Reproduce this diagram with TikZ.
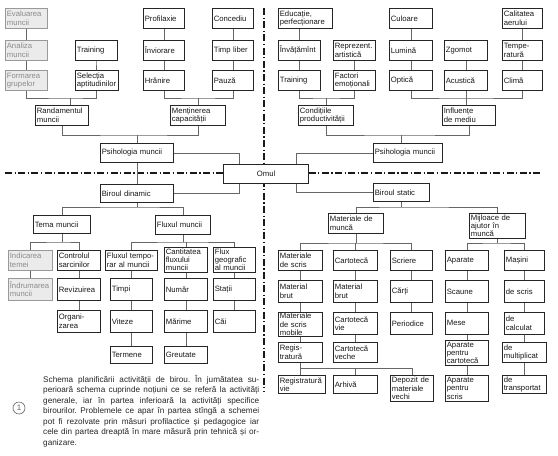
\documentclass[tikz,border=0pt]{standalone}
\usepackage{fontspec}
\setmainfont{Liberation Sans}
\usetikzlibrary{calc}
\newcommand\bxf{\fontsize{7.7}{8.3}\selectfont}
\begin{document}
\begin{tikzpicture}[x=1pt,y=1pt,
  bx/.style={draw=black!85, fill=white, line width=0.7pt, inner xsep=1.5pt, inner ysep=1pt, align=left, anchor=north west, font=\bxf, text=black!90},
  fbx/.style={bx, draw=black!40, fill=black!8, text=black!45},
  cn/.style={draw=black!60, line width=0.55pt},
  divline/.style={draw=black!90, line width=1.1pt, dash pattern=on 7pt off 2.5pt on 1.2pt off 2.5pt}]
\useasboundingbox (0,0) rectangle (558,-456);
\fill[white] (0,0) rectangle (558,-456);
% dividers
\draw[divline] (5,-173) -- (542,-173);
\draw[divline] (264,-8) -- (264,-392);
% ---------- top left
\node[fbx, text width=39pt, minimum height=20pt] (eval) at (5,-8) {Evaluarea\\muncii};
\node[fbx, text width=39pt, minimum height=20pt] (anal) at (5,-40) {Analiza\\muncii};
\node[fbx, text width=39pt, minimum height=20pt] (form) at (5,-70) {Formarea\\grupelor};
\node[bx, text width=39pt, minimum height=20pt] (trainA) at (75,-40) {Training};
\node[bx, text width=39.5pt, minimum height=20pt] (selec) at (75,-70) {Selecția\\aptitudinilor};
\node[bx, text width=50pt, minimum height=20pt] (rand) at (35,-105) {Randamentul\\muncii};
\node[bx, text width=38pt, minimum height=20pt] (prof) at (143,-8) {Profilaxie};
\node[bx, text width=38pt, minimum height=20pt] (conc) at (212,-8) {Concediu};
\node[bx, text width=38pt, minimum height=20pt] (invi) at (143,-40) {Înviorare};
\node[bx, text width=38pt, minimum height=20pt] (timp) at (212,-40) {Timp liber};
\node[bx, text width=38pt, minimum height=20pt] (hran) at (143,-70) {Hrănire};
\node[bx, text width=38pt, minimum height=20pt] (pauz) at (212,-70) {Pauză};
\node[bx, text width=52pt, minimum height=20pt] (ment) at (170,-105) {Menținerea\\capacității};
% ---------- top right
\node[bx, text width=51pt, minimum height=20pt] (educ) at (278,-8) {Educație,\\perfecționare};
\node[bx, text width=39pt, minimum height=20pt] (inva) at (278,-40) {Învățămînt};
\node[bx, text width=39pt, minimum height=20pt] (repr) at (333,-40) {Reprezent.\\artistică};
\node[bx, text width=39pt, minimum height=20pt] (trainB) at (278,-70) {Training};
\node[bx, text width=39pt, minimum height=20pt] (fact) at (333,-70) {Factori\\emoționali};
\node[bx, text width=52pt, minimum height=20pt] (cond) at (298,-105) {Condițiile\\productivității};
\node[bx, text width=40pt, minimum height=20pt] (cul) at (389,-8) {Culoare};
\node[bx, text width=40pt, minimum height=20pt] (lum) at (389,-40) {Lumină};
\node[bx, text width=40pt, minimum height=20pt] (opt) at (389,-70) {Optică};
\node[bx, text width=40pt, minimum height=20pt] (zgo) at (444,-40) {Zgomot};
\node[bx, text width=40pt, minimum height=20pt] (acu) at (444,-70) {Acustică};
\node[bx, text width=37pt, minimum height=20pt] (cal) at (502,-8) {Calitatea\\aerului};
\node[bx, text width=37pt, minimum height=20pt] (temp) at (502,-40) {Tempe-\\ratură};
\node[bx, text width=37pt, minimum height=20pt] (clim) at (502,-70) {Climă};
\node[bx, text width=50pt, minimum height=20pt] (infl) at (442,-105) {Influențe\\de mediu};
% ---------- middle
\node[bx, text width=70pt, minimum height=19pt] (psyA) at (100,-143) {Psihologia muncii};
\node[bx, text width=66pt, minimum height=19pt] (psyB) at (373,-143) {Psihologia muncii};
\node[bx, align=center, text width=82pt, minimum height=19pt, line width=1.2pt] (omul) at (223,-164) {Omul};
\node[bx, text width=70pt, minimum height=18pt] (bd) at (100,-184) {Biroul dinamic};
\node[bx, text width=53pt, minimum height=18pt] (bs) at (373,-183) {Biroul static};
% ---------- bottom left
\node[bx, text width=54pt, minimum height=18pt] (tema) at (33,-215) {Tema muncii};
\node[bx, text width=52pt, minimum height=19pt] (flux) at (155,-215) {Fluxul muncii};
\node[fbx, text width=41pt, minimum height=20pt] (ind) at (8,-250) {Indicarea\\temei};
\node[bx, text width=40pt, minimum height=20pt] (ctrl) at (57,-250) {Controlul\\sarcinilor};
\node[bx, text width=49pt, minimum height=20pt] (ftemp) at (105,-250) {Fluxul tempo-\\rar al muncii};
\node[bx, text width=40pt, minimum height=25pt] (cant) at (164,-247) {Cantitatea\\fluxului\\muncii};
\node[bx, text width=39pt, minimum height=25pt] (fgeo) at (213,-247) {Flux\\geografic\\al muncii};
\node[fbx, text width=41pt, minimum height=22pt] (indr) at (8,-278) {Îndrumarea\\muncii};
\node[bx, text width=40pt, minimum height=22pt] (rev) at (57,-278) {Revizuirea};
\node[bx, text width=39pt, minimum height=22pt] (timpi) at (110,-278) {Timpi};
\node[bx, text width=40pt, minimum height=22pt] (num) at (164,-278) {Număr};
\node[bx, text width=39pt, minimum height=22pt] (stat) at (213,-278) {Stații};
\node[bx, text width=40pt, minimum height=22pt] (org) at (57,-310) {Organi-\\zarea};
\node[bx, text width=39pt, minimum height=22pt] (vit) at (110,-310) {Viteze};
\node[bx, text width=40pt, minimum height=22pt] (mar) at (164,-310) {Mărime};
\node[bx, text width=39pt, minimum height=22pt] (cai) at (213,-310) {Căi};
\node[bx, text width=39pt, minimum height=17pt] (term) at (110,-346) {Termene};
\node[bx, text width=40pt, minimum height=17pt] (greu) at (164,-346) {Greutate};
% ---------- bottom right
\node[bx, text width=52pt, minimum height=20pt] (mat) at (328,-213) {Materiale de\\muncă};
\node[bx, text width=53pt, minimum height=25pt] (mij) at (469,-213) {Mijloace de\\ajutor în\\muncă};
\node[bx, text width=41pt, minimum height=20pt] (msc) at (278,-250) {Materiale\\de scris};
\node[bx, text width=41pt, minimum height=20pt] (cart) at (333,-250) {Cartotecă};
\node[bx, text width=39pt, minimum height=20pt] (scr) at (390,-250) {Scriere};
\node[bx, text width=40pt, minimum height=20pt] (apar) at (445,-250) {Aparate};
\node[bx, text width=37pt, minimum height=20pt] (mas) at (504,-250) {Mașini};
\node[bx, text width=41pt, minimum height=22pt] (mbA) at (278,-280) {Material\\brut};
\node[bx, text width=41pt, minimum height=22pt] (mbB) at (333,-280) {Material\\brut};
\node[bx, text width=39pt, minimum height=22pt] (carti) at (390,-280) {Cărți};
\node[bx, text width=40pt, minimum height=22pt] (scaun) at (445,-280) {Scaune};
\node[bx, text width=37pt, minimum height=22pt] (descris) at (504,-280) {de scris};
\node[bx, text width=41pt, minimum height=24pt] (mscm) at (278,-312) {Materiale\\de scris\\mobile};
\node[bx, text width=41pt, minimum height=22pt] (cvie) at (333,-312) {Cartotecă\\vie};
\node[bx, text width=39pt, minimum height=22pt] (period) at (390,-312) {Periodice};
\node[bx, text width=40pt, minimum height=22pt] (mese) at (445,-312) {Mese};
\node[bx, text width=37pt, minimum height=22pt] (decalc) at (504,-312) {de\\calculat};
\node[bx, text width=41pt, minimum height=20pt] (regis) at (278,-342) {Regis-\\tratură};
\node[bx, text width=41pt, minimum height=20pt] (cvec) at (333,-342) {Cartotecă\\veche};
\node[bx, text width=40pt, minimum height=25pt] (apcart) at (445,-340) {Aparate\\pentru\\cartotecă};
\node[bx, text width=41pt, minimum height=20pt] (demult) at (502,-342) {de\\multiplicat};
\node[bx, text width=44pt, minimum height=18pt] (rvie) at (278,-375) {Registratură\\vie};
\node[bx, text width=41pt, minimum height=18pt] (arh) at (333,-375) {Arhivă};
\node[bx, text width=40pt, minimum height=26pt] (depoz) at (390,-375) {Depozit de\\materiale\\vechi};
\node[bx, text width=40pt, minimum height=26pt] (apscr) at (445,-375) {Aparate\\pentru\\scris};
\node[bx, text width=41pt, minimum height=18pt] (detrans) at (502,-375) {de\\transportat};
% ---------- caption
\node[circle, draw=black!60, line width=0.6pt, minimum size=12pt, inner sep=0pt, text=black!60, font=\fontsize{8}{8}\selectfont] (no) at (19,-408) {1};
\node[anchor=north west, text width=216pt, align=justify, inner sep=0pt, text=black!85, font=\fontsize{8.2}{10.5}\selectfont] (cap) at (43,-375) {\frenchspacing\tolerance=10000\hbadness=10000
Schema planificării activității de birou. În jumătatea su-\linebreak
perioară schema cuprinde noțiuni ce se referă la activități\linebreak
generale, iar în partea inferioară la activități specifice\linebreak
birourilor. Problemele ce apar în partea stîngă a schemei\linebreak
pot fi rezolvate prin măsuri profilactice și pedagogice iar\linebreak
cele din partea dreaptă în mare măsură prin tehnică și or-\linebreak
ganizare.};
% ---------- vertical chains
\draw[cn] (eval) -- (anal) -- (form);
\draw[cn] (trainA) -- (selec);
\draw[cn] (prof) -- (invi) -- (hran);
\draw[cn] (conc) -- (timp) -- (pauz);
\draw[cn] (inva.north) -- (inva.north |- educ.south);
\draw[cn] (inva) -- (trainB);
\draw[cn] (repr) -- (fact);
\draw[cn] (cul) -- (lum) -- (opt);
\draw[cn] (zgo) -- (acu);
\draw[cn] (cal) -- (temp) -- (clim);
\draw[cn] (psyA) -- (bd);
\draw[cn] (ind) -- (indr);
\draw[cn] (ctrl) -- (rev) -- (org);
\draw[cn] (ftemp.south) -- (ftemp.south |- timpi.north);
\draw[cn] (timpi) -- (vit) -- (term);
\draw[cn] (cant) -- (num) -- (mar) -- (greu);
\draw[cn] (fgeo) -- (stat) -- (cai);
\draw[cn] (msc) -- (mbA) -- (mscm) -- (regis);
\draw[cn] (cart) -- (mbB) -- (cvie) -- (cvec);
\draw[cn] (scr) -- (carti) -- (period);
\draw[cn] (apar) -- (scaun) -- (mese) -- (apcart) -- (apscr);
\draw[cn] (mas) -- (descris) -- (decalc) -- (demult) -- (detrans);
% ---------- joints
\coordinate (j1) at (70,-98);
\draw[cn] (form.south) |- (j1) -| (selec.south);
\draw[cn] (j1) -- (j1 |- rand.north);
\coordinate (j2) at (ment.north |- 0,-98);
\draw[cn] (hran.south) |- (j2) -| (pauz.south);
\draw[cn] (j2) -- (ment.north);
\coordinate (j3) at (psyA.north |- 0,-135);
\draw[cn] (rand.south) |- (j3) -| (ment.south);
\draw[cn] (j3) -- (psyA.north);
\coordinate (j4) at (cond.north |- 0,-98);
\draw[cn] (trainB.south) |- (j4) -| (fact.south);
\draw[cn] (j4) -- (cond.north);
\coordinate (j5) at (acu.south |- 0,-98);
\draw[cn] (opt.south) |- (j5) -| (clim.south);
\draw[cn] (acu.south) -- (j5 |- infl.north);
\coordinate (j6) at (bs.north |- 0,-135);
\draw[cn] (cond.south) |- (j6) -| (infl.south);
\draw[cn] (j6) -- (j6 |- psyB.north);
% Omul
\coordinate (oa) at ($(omul.north west)+(16,0)$);
\coordinate (ob) at ($(omul.south west)+(16,0)$);
\coordinate (oc) at ($(omul.north east)+(-13,0)$);
\coordinate (od) at ($(omul.south east)+(-13,0)$);
\draw[cn] (psyA.east) -| (oa);
\draw[cn] (ob) |- (bd.east);
\draw[cn] (psyB.west) -| (oc);
\draw[cn] (od) |- (bs.west);
% lower joints
\coordinate (j7) at (bd.south |- 0,-207);
\draw[cn] (bd.south) -- (j7);
\draw[cn] (tema.north) |- (j7) -| (flux.north);
\coordinate (j8) at (bs.south |- 0,-207);
\draw[cn] (bs.south) -- (j8);
\draw[cn] (mat.north) |- (j8) -| (mij.north);
\coordinate (j9) at (tema.south |- 0,-242);
\draw[cn] (tema.south) -- (j9);
\draw[cn] (ind.north) |- (j9) -| (ctrl.north);
\coordinate (j10) at (flux.south |- 0,-242);
\draw[cn] (flux.south) -- (j10);
\draw[cn] (ftemp.north) |- (j10) -| (fgeo.north);
\draw[cn] (cant.north) -- (cant.north |- j10);
\coordinate (j11) at (mat.south |- 0,-243);
\draw[cn] (mat.south) -- (j11);
\draw[cn] (msc.north) |- (j11) -| (scr.north);
\draw[cn] (cart.north) -- (cart.north |- j11);
\coordinate (j12) at (mij.south |- 0,-243);
\draw[cn] (mij.south) -- (j12);
\draw[cn] (apar.north) |- (j12) -| (mas.north);
\coordinate (j13) at (regis.south |- 0,-368);
\draw[cn] (regis.south) -- (j13) -| (depoz.north);
\draw[cn] (j13) -- (j13 |- rvie.north);
\draw[cn] (arh.north) -- (arh.north |- j13);
\end{tikzpicture}
\end{document}
